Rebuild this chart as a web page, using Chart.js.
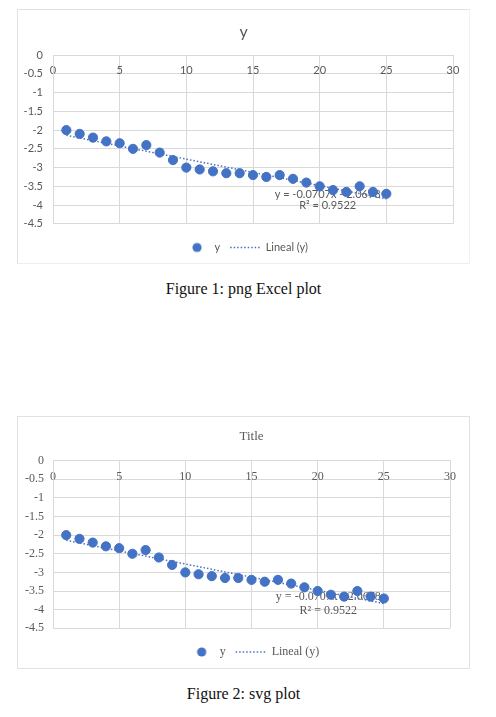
<!DOCTYPE html>
<html>
<head>
<meta charset="utf-8">
<script src="https://cdn.jsdelivr.net/npm/chart.js@4.4.1/dist/chart.umd.min.js"></script>
<style>
  html, body { margin: 0; padding: 0; background: #fff; }
  body { width: 496px; height: 717px; position: relative; overflow: hidden; }
  .fig { position: absolute; left: 17px; width: 453px; box-sizing: border-box; border: 1px solid #e2e2e2; background: #fff; }
  #fig1 { top: 9px; height: 255px; border-right-color: #f2f2f2; border-bottom-color: #eeeeee; }
  #fig2 { top: 416px; height: 253px; }
  .fig canvas { display: block; }
  .caption { position: absolute; left: 0; width: 487px; text-align: center; font-family: "Liberation Serif", serif; font-size: 16px; color: #111; }
</style>
</head>
<body>
<div class="fig" id="fig1"><canvas id="chart1"></canvas></div>
<div class="caption" style="top:280px">Figure 1: png Excel plot</div>
<div class="fig" id="fig2"><canvas id="chart2"></canvas></div>
<div class="caption" style="top:685px">Figure 2: svg plot</div>
<script>
// data
const xValues = [1, 2, 3, 4, 5, 6, 7, 8, 9, 10, 11, 12, 13, 14, 15, 16, 17, 18, 19, 20, 21, 22, 23, 24, 25];
const yValues = [-2.0, -2.1, -2.2, -2.3, -2.35, -2.5, -2.4, -2.6, -2.8, -3.0, -3.05, -3.1, -3.15, -3.15, -3.2,
                 -3.25, -3.2, -3.3, -3.4, -3.5, -3.6, -3.65, -3.5, -3.65, -3.7];
const xTicks = [0, 5, 10, 15, 20, 25, 30];
const yTicks = [0, -0.5, -1, -1.5, -2, -2.5, -3, -3.5, -4, -4.5];
// trendline end points (Excel "Lineal" fit)
const trendX = [1, 25];
const trendY = [-2.1385, -3.8353];
const trendLabel = 'y = -0.0707x - 2.0678';
const r2Label = 'R² = 0.9522';

const BLUE = '#4472C4';
const GREY = '#595959';
const GRID = '#d9d9d9';

function dotImage(r) {
    const c = document.createElement('canvas');
    c.width = 30; c.height = 12;
    const g = c.getContext('2d');
    g.fillStyle = BLUE;
    g.beginPath();
    g.arc(18, 6, r, 0, Math.PI * 2);
    g.fill();
    return c;
}

// equation text, drawn under the points like Excel does
const trendText = {
    id: 'trendText',
    beforeDatasetsDraw(chart, args, opts) {
        const { ctx, scales: { x, y } } = chart;
        ctx.save();
        ctx.font = opts.font;
        ctx.fillStyle = GREY;
        ctx.textAlign = 'center';
        ctx.textBaseline = 'middle';
        ctx.fillText(trendLabel, x.getPixelForValue(opts.at[0]), y.getPixelForValue(opts.at[1]));
        ctx.fillText(r2Label, x.getPixelForValue(opts.at[0]), y.getPixelForValue(opts.at[2]));
        ctx.restore();
    }
};

function makeChart(id, s) {
    const font = { family: s.family, size: s.size };
    new Chart(document.getElementById(id), {
        type: 'scatter',
        data: {
            datasets: [{
                label: 'y',
                data: xValues.map((x, i) => ({ x, y: yValues[i] })),
                backgroundColor: BLUE,
                borderColor: BLUE,
                pointRadius: 4.6,
                pointHoverRadius: 4.6,
                order: 2
            }, {
                type: 'line',
                label: 'Lineal (y)',
                data: trendX.map((x, i) => ({ x, y: trendY[i] })),
                borderColor: BLUE,
                borderWidth: 1.5,
                borderDash: [1.5, 2],
                pointRadius: 0,
                fill: false,
                order: 1
            }]
        },
        options: {
            responsive: true,
            maintainAspectRatio: false,
            animation: false,
            layout: { padding: { left: 0, right: s.padRight, top: 0, bottom: 0 } },
            scales: {
                x: {
                    type: 'linear',
                    position: { y: 0 },
                    min: 0,
                    max: 30,
                    afterBuildTicks: a => { a.ticks = xTicks.map(v => ({ value: v })); },
                    grid: { color: GRID, drawTicks: false },
                    border: { color: GRID },
                    ticks: { color: GREY, font, padding: s.xPad, maxRotation: 0 }
                },
                y: {
                    type: 'linear',
                    min: -4.5,
                    max: 0,
                    afterBuildTicks: a => { a.ticks = yTicks.map(v => ({ value: v })); },
                    afterFit: a => { a.width = 35; },
                    grid: { color: GRID, drawTicks: false },
                    border: { color: GRID },
                    ticks: { color: GREY, font, padding: s.yPad, callback: v => String(v) }
                },
                // empty right margin (keeps the title/legend centred on the canvas)
                yPad: {
                    type: 'linear',
                    position: 'right',
                    display: s.rightGap > 0,
                    afterFit: a => { a.width = s.rightGap; },
                    grid: { display: false },
                    border: { display: false },
                    ticks: { display: false }
                }
            },
            plugins: {
                title: {
                    display: true,
                    fullSize: s.fullSize,
                    text: s.title,
                    color: GREY,
                    font: { family: s.family, size: s.titleSize, weight: 'normal' },
                    padding: s.titlePad
                },
                legend: {
                    position: 'bottom',
                    fullSize: s.fullSize,
                    title: { display: true, text: '', font: { size: 1 }, padding: { top: s.legendGap, bottom: 0 } },
                    labels: {
                        usePointStyle: true,
                        pointStyleWidth: 30,
                        color: GREY,
                        font,
                        padding: 10,
                        generateLabels: () => [{
                            text: 'y',
                            pointStyle: dotImage(4.6),
                            fillStyle: BLUE,
                            strokeStyle: BLUE,
                            lineWidth: 0,
                            fontColor: GREY,
                            hidden: false,
                            datasetIndex: 0
                        }, {
                            text: 'Lineal (y)',
                            pointStyle: 'line',
                            fillStyle: BLUE,
                            strokeStyle: BLUE,
                            lineWidth: 1.5,
                            lineDash: [1.5, 2],
                            fontColor: GREY,
                            hidden: false,
                            datasetIndex: 1
                        }]
                    }
                },
                tooltip: { enabled: false },
                trendText: { font: s.size + 'px ' + s.family, at: s.eqAt }
            }
        },
        plugins: [trendText]
    });
}

makeChart('chart1', {
    title: 'y', family: 'Lato', size: 11, titleSize: 16,
    titlePad: { top: 12, bottom: 14 }, fullSize: true,
    padRight: 0, rightGap: 16, yPad: 10, xPad: 9, legendGap: 7,
    eqAt: [20.6, -3.71, -4.02]
});
makeChart('chart2', {
    title: 'Title', family: 'Liberation Serif', size: 12, titleSize: 13,
    titlePad: { top: 12, bottom: 16 }, fullSize: false,
    padRight: 19, rightGap: 0, yPad: 9, xPad: 9, legendGap: 6.5,
    eqAt: [20.8, -3.66, -4.02]
});
</script>
</body>
</html>
